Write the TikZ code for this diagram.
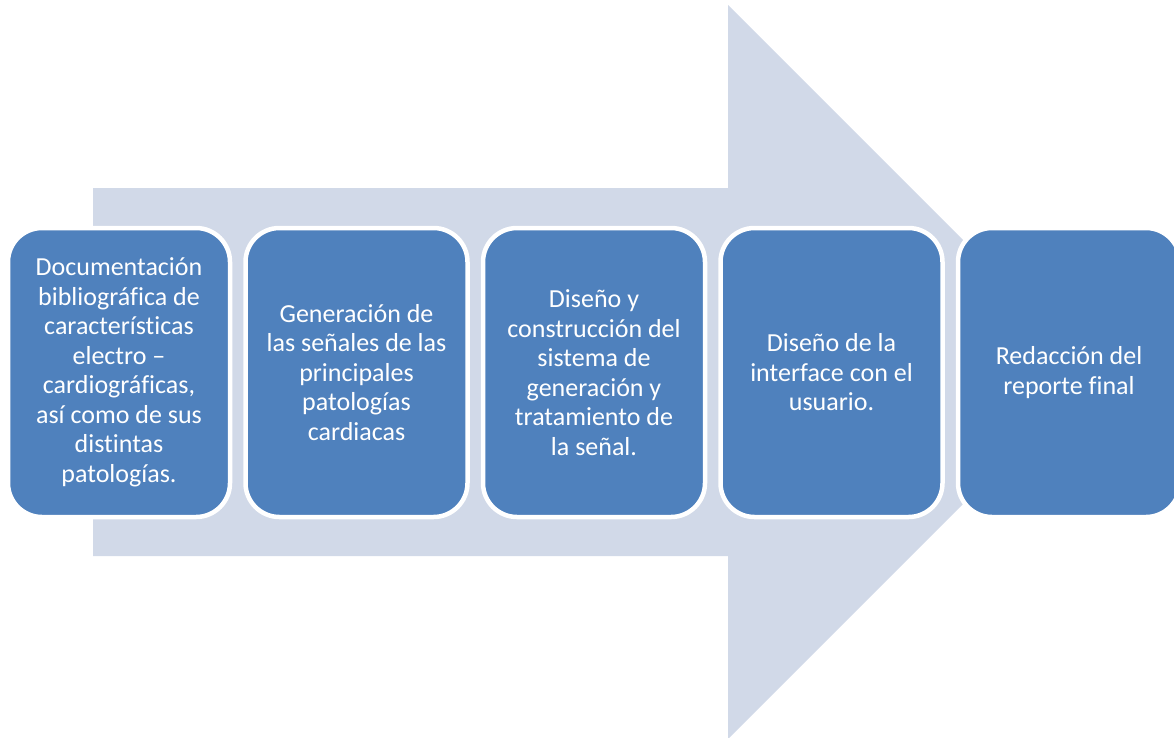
\documentclass[tikz,border=0pt]{standalone}
\usepackage{fontspec}
\setmainfont{Carlito}[RawFeature={-liga;-dlig}]
\definecolor{arrowfill}{HTML}{D1D9E8}
\definecolor{boxfill}{HTML}{4F81BD}
\begin{document}
\begin{tikzpicture}[x=1pt,y=-1pt,
  stepbox/.style={draw=white, line width=4.5pt, fill=boxfill, rounded corners=34pt,
    minimum width=222pt, minimum height=289pt, inner sep=0pt, text=white, align=center,
    font=\fontsize{26}{29.5}\selectfont}]
\useasboundingbox (0,0) rectangle (1174,737);
\begin{scope}
\clip (0,0) rectangle (1174,737);
\fill[arrowfill] (93,188) -- (728,188) -- (728,5) -- (1095,372) -- (728,739) -- (728,556) -- (93,556) -- cycle;
\node[stepbox] (s1) at (119,372.5) {Documentación\\bibliográfica de\\características\\electro –\\cardiográficas,\\así como de sus\\distintas\\patologías.};
\node[stepbox] (s2) at (356.5,372.5) {Generación de\\las señales de las\\principales\\patologías\\cardiacas};
\node[stepbox] (s3) at (594,372.5) {Diseño y\\construcción del\\sistema de\\generación y\\tratamiento de\\la señal.};
\node[stepbox] (s4) at (831.5,372.5) {Diseño de la\\interface con el\\usuario.};
\node[stepbox] (s5) at (1069,372.5) {Redacción del\\reporte final};
\end{scope}
\end{tikzpicture}
\end{document}
